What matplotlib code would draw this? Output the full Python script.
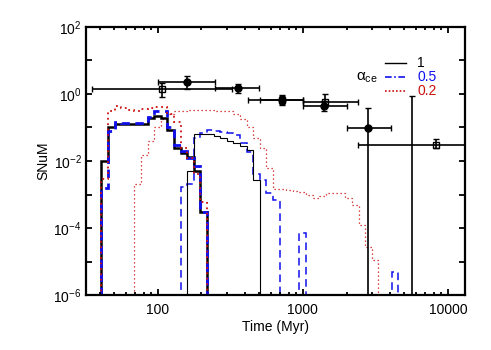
import numpy as np
import matplotlib.pyplot as plt
from matplotlib.lines import Line2D

plt.rcParams['font.family'] = ['Liberation Sans', 'DejaVu Sans']
plt.rcParams['mathtext.fontset'] = 'custom'
plt.rcParams['mathtext.rm'] = 'Liberation Sans'
plt.rcParams['mathtext.it'] = 'Liberation Sans:italic'
plt.rcParams['mathtext.default'] = 'regular'

# histogram bins: 22 per decade
bin_lo = 1.612
n_bins = 46
edges = np.logspace(bin_lo, bin_lo + n_bins / 22, n_bins + 1)

# model rates (SNuM) per bin, each series starts at a given bin
black_thick_start = 0
black_thick = [0.01, 0.105, 0.127, 0.127, 0.127, 0.127, 0.127, 0.188, 0.225, 0.19,
               0.084, 0.024, 0.017, 0.013, 0.0052, 0.0003]
blue_thick_start = 0
blue_thick = [0.0016, 0.08, 0.15, 0.14, 0.14, 0.14, 0.14, 0.21, 0.30, 0.30,
              0.10, 0.03, 0.02, 0.012, 0.007, 0.0003]
red_thick_start = 0
red_thick = [0.003, 0.3, 0.45, 0.38, 0.33, 0.3, 0.35, 0.38, 0.4, 0.4,
             0.25, 0.15, 0.024, 0.012, 0.004, 0.0006]

black_thin_start = 13
black_thin = [0.005, 0.062, 0.065, 0.062, 0.055, 0.048, 0.04, 0.035, 0.028, 0.022, 0.0027]
blue_thin_start = 12
blue_thin = [0.0017, 0.002, 0.05, 0.07, 0.085, 0.08, 0.075, 0.07, 0.06, 0.035,
             0.018, 0.004, 0.0027, 0.0011, 0.0007, 0, 0, 0, 7e-5,
             0, 0, 0, 0, 0, 0, 0, 0, 0, 0, 0, 0, 0, 5e-6]
red_thin_start = 5
red_thin = [0.002, 0.015, 0.04, 0.1, 0.18, 0.25, 0.3, 0.32, 0.34, 0.34,
            0.34, 0.33, 0.32, 0.3, 0.3, 0.26, 0.18, 0.1, 0.048, 0.024,
            0.006, 0.0015, 0.0015, 0.0014, 0.0013, 0.0012, 0.001, 0.0008, 0.0009, 0.0011,
            0.0011, 0.0011, 0.0008, 0.0005, 0.00012, 2.7e-5, 1.1e-5]

# observed rates: filled circles
circ_t = [160, 356, 713, 1400, 2820, 5680]
circ_r = [2.33, 1.54, 0.66, 0.44, 0.095, 1e-7]
circ_tlo = [100, 248, 420, 1000, 2000, 5680]
circ_thi = [248, 500, 1000, 2020, 4045, 5680]
circ_rlo = [1.41, 1.05, 0.47, 0.31, 1e-9, 1e-9]
circ_rhi = [3.5, 1.99, 0.93, 0.6, 0.39, 0.87]
# observed rates: open squares
sq_t = [107, 713, 1420, 8260]
sq_r = [1.38, 0.68, 0.56, 0.030]
sq_tlo = [35, 505, 1000, 2400]
sq_thi = [327, 1000, 2400, 20000]
sq_rlo = [0.83, 0.5, 0.42, 0.025]
sq_rhi = [2.08, 0.9, 0.98, 0.044]

fig = plt.figure(figsize=(4.91, 3.5), dpi=100)
ax = fig.add_axes([0.175, 0.157, 0.772, 0.766])

floor = 1e-9
def draw(vals, start, **kw):
    v = np.array(vals, dtype=float)
    v = np.where(v > 0, v, floor)
    ax.stairs(v, edges[start:start + len(v) + 1], baseline=floor, **kw)

blue = '#1010ee'
red = '#cc1010'
draw(red_thin, red_thin_start, color=red, lw=0.9, ls=(0, (1, 2.2)))
draw(blue_thin, blue_thin_start, color=blue, lw=1.1, ls=(0, (5, 3)))
draw(black_thin, black_thin_start, color='black', lw=0.8)
draw(black_thick, black_thick_start, color='black', lw=1.8)
draw(blue_thick, blue_thick_start, color=blue, lw=2.0, ls=(0, (3, 2)))
draw(red_thick, red_thick_start, color=red, lw=1.3, ls=(0, (1, 2)))

def err(t, r, tlo, thi, rlo, rhi, marker, mfc):
    t = np.array(t); r = np.array(r)
    xe = [t - np.array(tlo), np.array(thi) - t]
    ye = [r - np.array(rlo), np.array(rhi) - r]
    ax.errorbar(t, r, xerr=xe, yerr=ye, fmt=marker, color='black', mfc=mfc, mec='black',
                ms=5, mew=1.0, elinewidth=1.2, capsize=2.5, capthick=1.2)

err(sq_t, sq_r, sq_tlo, sq_thi, sq_rlo, sq_rhi, 's', 'none')
err(circ_t, circ_r, circ_tlo, circ_thi, circ_rlo, circ_rhi, 'o', 'black')

ax.set_xscale('log')
ax.set_yscale('log')
ax.set_xlim(32, 13100)
ax.set_ylim(1e-6, 1e2)

ax.set_xticks([100, 1000, 10000])
ax.set_xticklabels(['100', '1000', '10000'])
ax.set_xticks([v * m for v in [10, 100, 1000, 10000] for m in range(2, 10)
               if 32 <= v * m <= 13100], minor=True)
ax.set_yticks([10.0 ** e for e in range(-6, 3)])
ax.set_yticklabels([r'$10^{%d}$' % e if e % 2 == 0 else '' for e in range(-6, 3)])
ax.set_yticks([], minor=True)
ax.tick_params(which='both', direction='in', top=True, right=True, width=1.3, labelsize=10)
ax.tick_params(which='major', length=4.5)
ax.tick_params(which='minor', length=2.5)
ax.tick_params(axis='x', pad=6)
ax.tick_params(axis='y', pad=3)
for s in ax.spines.values():
    s.set_linewidth(1.6)

ax.set_xlabel('Time (Myr)', fontsize=10, labelpad=2)
ax.set_ylabel('SNuM', fontsize=10, labelpad=2)

handles = [Line2D([], [], color='black', lw=1.0),
           Line2D([], [], color=blue, lw=1.2, ls=(0, (4, 1.5, 1, 1.5))),
           Line2D([], [], color=red, lw=1.2, ls=(0, (1, 1.2)))]
leg = ax.legend(handles, ['1', '0.5', '0.2'], loc='upper left', bbox_to_anchor=(0.79, 0.89),
                frameon=False, fontsize=10, handlelength=1.5, handletextpad=0.8,
                labelspacing=0.0, borderpad=0, borderaxespad=0)
for txt, c in zip(leg.get_texts(), ['black', blue, red]):
    txt.set_color(c)
ax.text(0.742, 0.81, r'$\alpha_{ce}$', transform=ax.transAxes, fontsize=11,
        ha='center', va='center')

fig.savefig('out.png', dpi=100)
